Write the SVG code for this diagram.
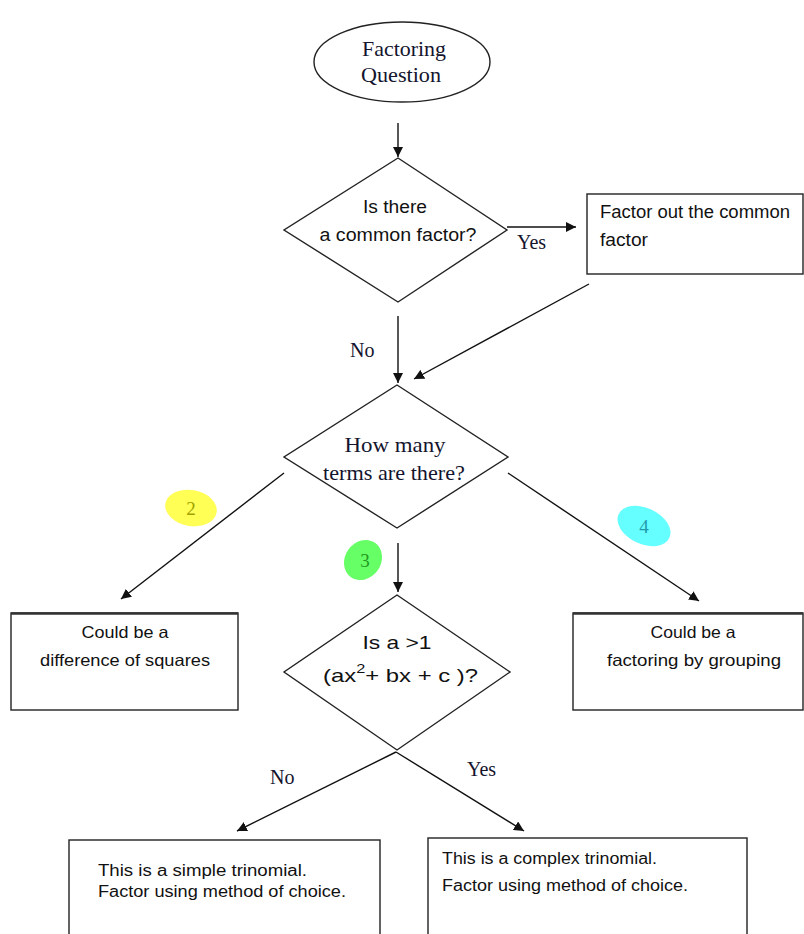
<svg xmlns="http://www.w3.org/2000/svg" width="804" height="934" viewBox="0 0 804 934">
<defs>
<marker id="ah" viewBox="0 0 10 10" refX="10" refY="5" markerWidth="10" markerHeight="10" markerUnits="userSpaceOnUse" orient="auto">
<path d="M0,0 L10,5 L0,10 z" fill="#111"/>
</marker>
<style>
.shape{fill:#fff;stroke:#222;stroke-width:1.4}
.ln{stroke:#222;stroke-width:1.4;fill:none}
.arr{stroke:#111;stroke-width:1.4;fill:none;marker-end:url(#ah)}
.serif{font-family:"Liberation Serif","Times New Roman",serif;fill:#14142e}
.sans{font-family:"Liberation Sans",Arial,sans-serif;fill:#111}
.c{text-anchor:middle}
</style>
</defs>
<rect width="804" height="934" fill="#fff"/>

<g id="connectors">
<line class="arr" x1="398" y1="123" x2="398" y2="157"/>
<line class="arr" x1="507" y1="227" x2="576" y2="227"/>
<line class="arr" x1="398" y1="316" x2="398" y2="383"/>
<line class="arr" x1="589" y1="284" x2="414" y2="379"/>
<line class="arr" x1="284" y1="473" x2="121" y2="599"/>
<line class="arr" x1="508" y1="473" x2="699" y2="601"/>
<line class="arr" x1="398" y1="543" x2="398" y2="592"/>
<line class="arr" x1="396" y1="752" x2="237" y2="831"/>
<line class="arr" x1="396" y1="752" x2="524" y2="831"/>
<text class="serif" x="517" y="249" font-size="20">Yes</text>
<text class="serif" x="350" y="357" font-size="20">No</text>
<text class="serif" x="270" y="784" font-size="20">No</text>
<text class="serif" x="467" y="776" font-size="20">Yes</text>
</g>

<g id="badges">
<ellipse cx="191" cy="508" rx="26" ry="18" transform="rotate(10 191 508)" fill="#ffff55"/>
<text class="serif c" x="191" y="515" font-size="19" style="fill:#a0a000">2</text>
<ellipse cx="363" cy="560" rx="21" ry="18" transform="rotate(-55 363 560)" fill="#66ff66"/>
<text class="serif c" x="365" y="567" font-size="19" style="fill:#229922">3</text>
<ellipse cx="644" cy="526" rx="28" ry="18" transform="rotate(25 644 526)" fill="#66ffff"/>
<text class="serif c" x="644" y="533" font-size="19" style="fill:#2299aa">4</text>
</g>

<g id="start">
<ellipse class="shape" cx="402" cy="62" rx="88" ry="40"/>
<text class="serif c" x="404" y="56" font-size="21" textLength="84" lengthAdjust="spacingAndGlyphs">Factoring</text>
<text class="serif c" x="401" y="82" font-size="21" textLength="80" lengthAdjust="spacingAndGlyphs">Question</text>
</g>

<g id="common-factor">
<polygon class="shape" points="398,158 507,230 398,302 284,230"/>
<text class="sans c" x="395" y="213" font-size="17.5" textLength="64" lengthAdjust="spacingAndGlyphs">Is there</text>
<text class="sans c" x="398" y="241" font-size="17.5" textLength="157" lengthAdjust="spacingAndGlyphs">a common factor?</text>
</g>

<g id="factor-out">
<rect class="shape" x="587" y="194" width="216" height="80"/>
<text class="sans" x="600" y="218" font-size="17.5" textLength="190" lengthAdjust="spacingAndGlyphs">Factor out the common</text>
<text class="sans" x="600" y="246" font-size="17.5" textLength="48" lengthAdjust="spacingAndGlyphs">factor</text>
</g>

<g id="how-many">
<polygon class="shape" points="397,385 508,457 397,528 284,457"/>
<text class="serif c" x="395" y="452" font-size="22" textLength="101" lengthAdjust="spacingAndGlyphs">How many</text>
<text class="serif c" x="394" y="480" font-size="22" textLength="142" lengthAdjust="spacingAndGlyphs">terms are there?</text>
</g>

<g id="diff-squares">
<rect class="shape" x="11" y="613" width="227" height="97"/>
<line x1="11" y1="613.5" x2="238" y2="613.5" stroke="#333" stroke-width="2.5"/>
<text class="sans c" x="125" y="638" font-size="16.5" textLength="87" lengthAdjust="spacingAndGlyphs">Could be a</text>
<text class="sans c" x="125" y="666" font-size="16.5" textLength="170" lengthAdjust="spacingAndGlyphs">difference of squares</text>
</g>

<g id="a-gt-1">
<polygon class="shape" points="397,595 510,672 397,750 284,672"/>
<text class="sans c" x="397" y="649" font-size="19" textLength="69" lengthAdjust="spacingAndGlyphs">Is a &gt;1</text>
<text class="sans" x="323" y="682" font-size="19" textLength="155" lengthAdjust="spacingAndGlyphs">(ax<tspan dy="-9" font-size="13">2</tspan><tspan dy="9">+ bx + c )?</tspan></text>
</g>

<g id="grouping">
<rect class="shape" x="573" y="613" width="230" height="97"/>
<line x1="573" y1="613.5" x2="803" y2="613.5" stroke="#333" stroke-width="2.5"/>
<text class="sans c" x="693" y="638" font-size="16.5" textLength="85" lengthAdjust="spacingAndGlyphs">Could be a</text>
<text class="sans c" x="694" y="666" font-size="16.5" textLength="174" lengthAdjust="spacingAndGlyphs">factoring by grouping</text>
</g>

<g id="simple-trinomial">
<rect class="shape" x="69" y="840" width="311" height="100"/>
<text class="sans" x="98" y="876" font-size="16" textLength="209" lengthAdjust="spacingAndGlyphs">This is a simple trinomial.</text>
<text class="sans" x="98" y="897" font-size="16" textLength="248" lengthAdjust="spacingAndGlyphs">Factor using method of choice.</text>
</g>

<g id="complex-trinomial">
<rect class="shape" x="428" y="838" width="319" height="102"/>
<text class="sans" x="442" y="864" font-size="16" textLength="215" lengthAdjust="spacingAndGlyphs">This is a complex trinomial.</text>
<text class="sans" x="442" y="891" font-size="16" textLength="246" lengthAdjust="spacingAndGlyphs">Factor using method of choice.</text>
</g>
</svg>
